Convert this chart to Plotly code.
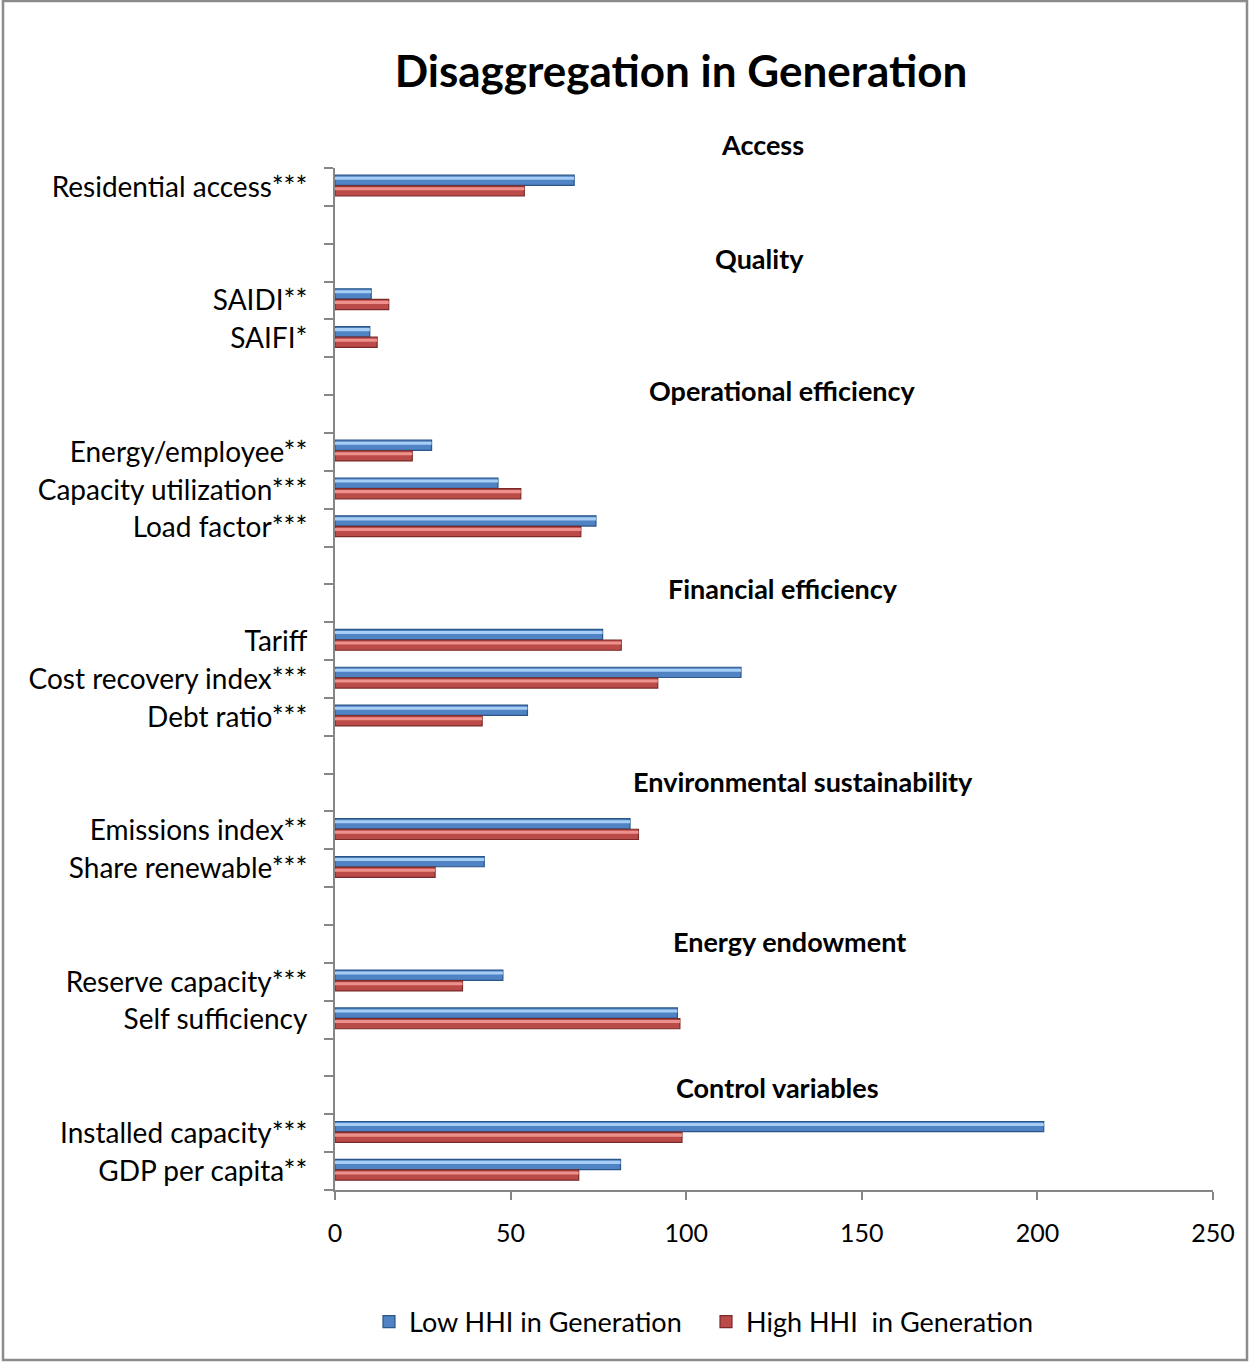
import plotly.graph_objects as go

# Indicator rows, top to bottom; "" marks an empty spacer row under a section heading
categories = [
    "Residential access***", "", "",
    "SAIDI**", "SAIFI*", "", "",
    "Energy/employee**", "Capacity utilization***", "Load factor***", "", "",
    "Tariff", "Cost recovery index***", "Debt ratio***", "", "",
    "Emissions index**", "Share renewable***", "", "",
    "Reserve capacity***", "Self sufficiency", "", "",
    "Installed capacity***", "GDP per capita**",
]
low_hhi = [
    68.1, None, None,
    10.3, 9.9, None, None,
    27.5, 46.4, 74.3, None, None,
    76.2, 115.6, 54.8, None, None,
    84.0, 42.5, None, None,
    47.8, 97.5, None, None,
    201.8, 81.3,
]
high_hhi = [
    53.9, None, None,
    15.3, 12.0, None, None,
    22.0, 52.9, 70.0, None, None,
    81.5, 91.9, 41.9, None, None,
    86.4, 28.5, None, None,
    36.3, 98.2, None, None,
    98.8, 69.4,
]
section_titles = [
    "Access", "Quality", "Operational efficiency", "Financial efficiency",
    "Environmental sustainability", "Energy endowment", "Control variables",
]
series_names = ["Low HHI in Generation", "High HHI  in Generation"]
x_ticks = [0, 50, 100, 150, 200, 250]

FONT = "Lato"
AXIS = "#868686"

rows = list(range(len(categories)))
label_rows = [r for r, c in zip(rows, categories) if c]
label_text = [c for c in categories if c]

fig = go.Figure()

# (values, fill, outline, highlight, bar offset)
styles = [
    (low_hhi, "#4F83C4", "#2B5689", "#A6CEF5", -0.31),
    (high_hhi, "#BA4B48", "#7A2B29", "#EE918D", -0.03),
]
for name, (vals, fill, edge, shine, off) in zip(series_names, styles):
    fig.add_trace(go.Bar(
        y=rows, x=vals, orientation="h", name=name,
        offset=off, width=0.27,
        marker=dict(color=fill, line=dict(color=edge, width=1.2)),
        hoverinfo="x+name",
    ))
    # glossy stripe along the top edge of each bar
    fig.add_trace(go.Bar(
        y=rows, x=vals, orientation="h", showlegend=False,
        offset=off + 0.04, width=0.08,
        marker=dict(color=shine, line=dict(width=0)),
        hoverinfo="skip",
    ))

pw = 1249 - 335 - 36
ph = 1362 - 168 - 172

# section headings: (x as fraction of plot width, pixel row of the text centre)
heading_pos = [
    (0.487, 144), (0.483, 258), (0.510, 390), (0.510, 588),
    (0.533, 781), (0.518, 941), (0.504, 1087),
]
for text, (hx, hy) in zip(section_titles, heading_pos):
    fig.add_annotation(
        text=f"<b>{text}</b>", x=hx, xref="paper",
        y=(1190 - hy) / ph, yref="paper",
        showarrow=False, xanchor="center", yanchor="middle",
        font=dict(family=FONT, size=27, color="#000000"),
    )

# outer chart border
fig.add_shape(
    type="rect", xref="paper", yref="paper",
    x0=(3 - 335) / pw, x1=(1247 - 335) / pw,
    y0=(1190 - 1360) / ph, y1=(1190 - 1) / ph,
    line=dict(color="#8C8C8C", width=2.5),
)

fig.update_layout(
    width=1249, height=1362,
    margin=dict(l=335, r=36, t=168, b=172),
    paper_bgcolor="white", plot_bgcolor="white",
    barmode="overlay",
    font=dict(family=FONT, size=24, color="#000000"),
    title=dict(
        text="<b>Disaggregation in Generation</b>",
        x=681 / 1249, xref="container", xanchor="center",
        y=1 - 72 / 1362, yref="container", yanchor="middle",
        font=dict(family=FONT, size=44, color="#000000"),
    ),
    legend=dict(
        orientation="h", xref="container", yref="container",
        x=369 / 1249, xanchor="left", y=1 - 1322 / 1362, yanchor="middle",
        entrywidth=292, entrywidthmode="pixels",
        font=dict(family=FONT, size=27, color="#000000"),
        traceorder="normal",
    ),
    showlegend=True,
)
fig.update_xaxes(
    range=[0, 250], tickmode="array", tickvals=x_ticks,
    ticks="outside", ticklen=8, tickwidth=2, tickcolor=AXIS,
    showline=True, linecolor=AXIS, linewidth=2,
    showgrid=False, zeroline=False, ticklabelstandoff=12,
    tickfont=dict(family=FONT, size=25, color="#000000"),
)
fig.update_yaxes(
    range=[len(categories) - 0.5, -0.5],
    tickmode="array", tickvals=label_rows, ticktext=label_text,
    ticks="", ticklabelstandoff=20,
    minor=dict(
        tickmode="array", tickvals=[r - 0.5 for r in rows] + [len(rows) - 0.5],
        ticks="outside", ticklen=9, tickwidth=2, tickcolor=AXIS, showgrid=False,
    ),
    showline=True, linecolor=AXIS, linewidth=2,
    showgrid=False, zeroline=False,
    tickfont=dict(family=FONT, size=28, color="#000000"),
)

fig.write_html("out.html")
